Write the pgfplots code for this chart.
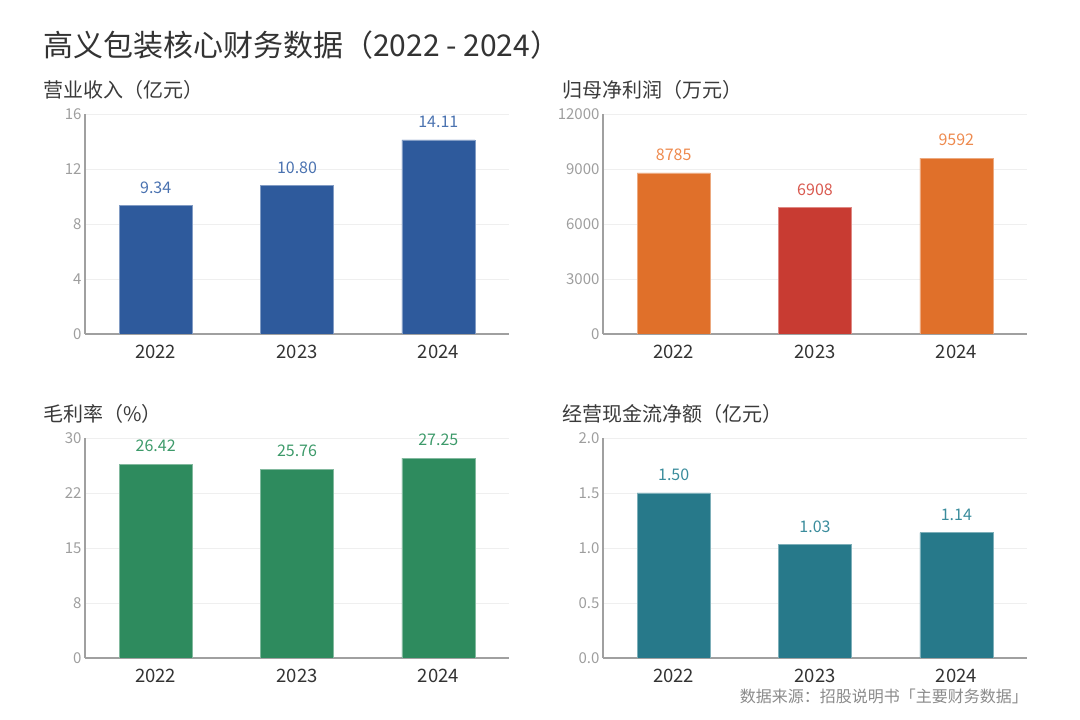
\documentclass[border=0pt]{standalone}
\usepackage{pgfplots}
\pgfplotsset{compat=1.18}
\usepackage{fontspec}
\setmainfont{Noto Sans CJK SC}
\definecolor{titlegray}{HTML}{333333}
\definecolor{subgray}{HTML}{3A3A3A}
\definecolor{tickgray}{HTML}{9E9E9E}
\definecolor{axisgray}{HTML}{A0A0A0}
\definecolor{gridgray}{HTML}{EFEFEF}
\definecolor{srcgray}{HTML}{8A8A8A}
\definecolor{cblue}{HTML}{2E5A9C}
\definecolor{cbluel}{HTML}{4A72B0}
\definecolor{corange}{HTML}{E0702A}
\definecolor{corangel}{HTML}{EE8A4E}
\definecolor{cred}{HTML}{C83B32}
\definecolor{credl}{HTML}{D95A50}
\definecolor{cgreen}{HTML}{2E8B5E}
\definecolor{cgreenl}{HTML}{3D9A6A}
\definecolor{cteal}{HTML}{27798A}
\definecolor{ctealt}{HTML}{3A8C9C}
\pgfplotsset{
  panel/.style={
    at={(#1)}, anchor=south west,
    width=424pt, height=220pt, scale only axis,
    ybar, bar width=73pt, bar shift=0pt,
    xmin=-0.5, xmax=2.5, xtick={0,1,2}, xticklabels={2022,2023,2024},
    axis x line*=bottom, axis y line*=left,
    axis line style={draw=axisgray, line width=1.3pt, -},
    tick style={draw=none},
    scaled y ticks=false,
    ymajorgrids, grid style={draw=gridgray, line width=0.8pt},
    /pgf/number format/assume math mode=true,
    yticklabel style={font=\fontsize{15}{15}\selectfont, text=tickgray},
    xticklabel style={font=\fontsize{18.5}{18.5}\selectfont, text=titlegray, yshift=-3pt},
    point meta=explicit symbolic,
    nodes near coords,
    every node near coord/.append style={anchor=center, yshift=18pt, font=\fontsize{16}{16}\selectfont},
  }
}
\begin{document}
\begin{tikzpicture}
\path (0pt,0pt) rectangle (1080pt,720pt);
\node[anchor=west, inner sep=0, text=titlegray, font=\fontsize{30}{30}\selectfont] at (43pt,675pt) {高义包装核心财务数据（2022 - 2024）};
\node[anchor=west, inner sep=0, text=subgray, font=\fontsize{20}{20}\selectfont] at (43pt,630pt) {营业收入（亿元）};
\node[anchor=west, inner sep=0, text=subgray, font=\fontsize{20}{20}\selectfont] at (562pt,630pt) {归母净利润（万元）};
\node[anchor=west, inner sep=0, text=subgray, font=\fontsize{20}{20}\selectfont] at (43pt,306pt) {毛利率（\%）};
\node[anchor=west, inner sep=0, text=subgray, font=\fontsize{20}{20}\selectfont] at (562pt,306pt) {经营现金流净额（亿元）};
\node[anchor=east, inner sep=0, text=srcgray, font=\fontsize{16}{16}\selectfont] at (1028pt,24pt) {数据来源：招股说明书「主要财务数据」};

\begin{axis}[panel={85pt,386pt}, ymin=0, ymax=16, ytick={0,4,8,12,16}, yticklabels={0,4,8,12,16}]
\addplot[fill=cblue, draw=cblue!60!white, line width=0.6pt, every node near coord/.append style={text=cbluel}]
  coordinates {(0,9.34) [9.34] (1,10.80) [10.80] (2,14.11) [14.11]};
\end{axis}

\begin{axis}[panel={603pt,386pt}, ymin=0, ymax=12000, ytick={0,3000,6000,9000,12000}, yticklabels={0,3000,6000,9000,12000}]
\addplot[fill=corange, draw=corange!60!white, line width=0.6pt, every node near coord/.append style={text=corangel}]
  coordinates {(0,8785) [8785] (2,9592) [9592]};
\addplot[fill=cred, draw=cred!60!white, line width=0.6pt, every node near coord/.append style={text=credl}]
  coordinates {(1,6908) [6908]};
\end{axis}

\begin{axis}[panel={85pt,62pt}, ymin=0, ymax=30, ytick={0,7.5,15,22.5,30}, yticklabels={0,8,15,22,30}]
\addplot[fill=cgreen, draw=cgreen!60!white, line width=0.6pt, every node near coord/.append style={text=cgreenl}]
  coordinates {(0,26.42) [26.42] (1,25.76) [25.76] (2,27.25) [27.25]};
\end{axis}

\begin{axis}[panel={603pt,62pt}, ymin=0, ymax=2, ytick={0,0.5,1,1.5,2}, yticklabels={0.0,0.5,1.0,1.5,2.0}]
\addplot[fill=cteal, draw=cteal!60!white, line width=0.6pt, every node near coord/.append style={text=ctealt}]
  coordinates {(0,1.50) [1.50] (1,1.03) [1.03] (2,1.14) [1.14]};
\end{axis}
\end{tikzpicture}
\end{document}
